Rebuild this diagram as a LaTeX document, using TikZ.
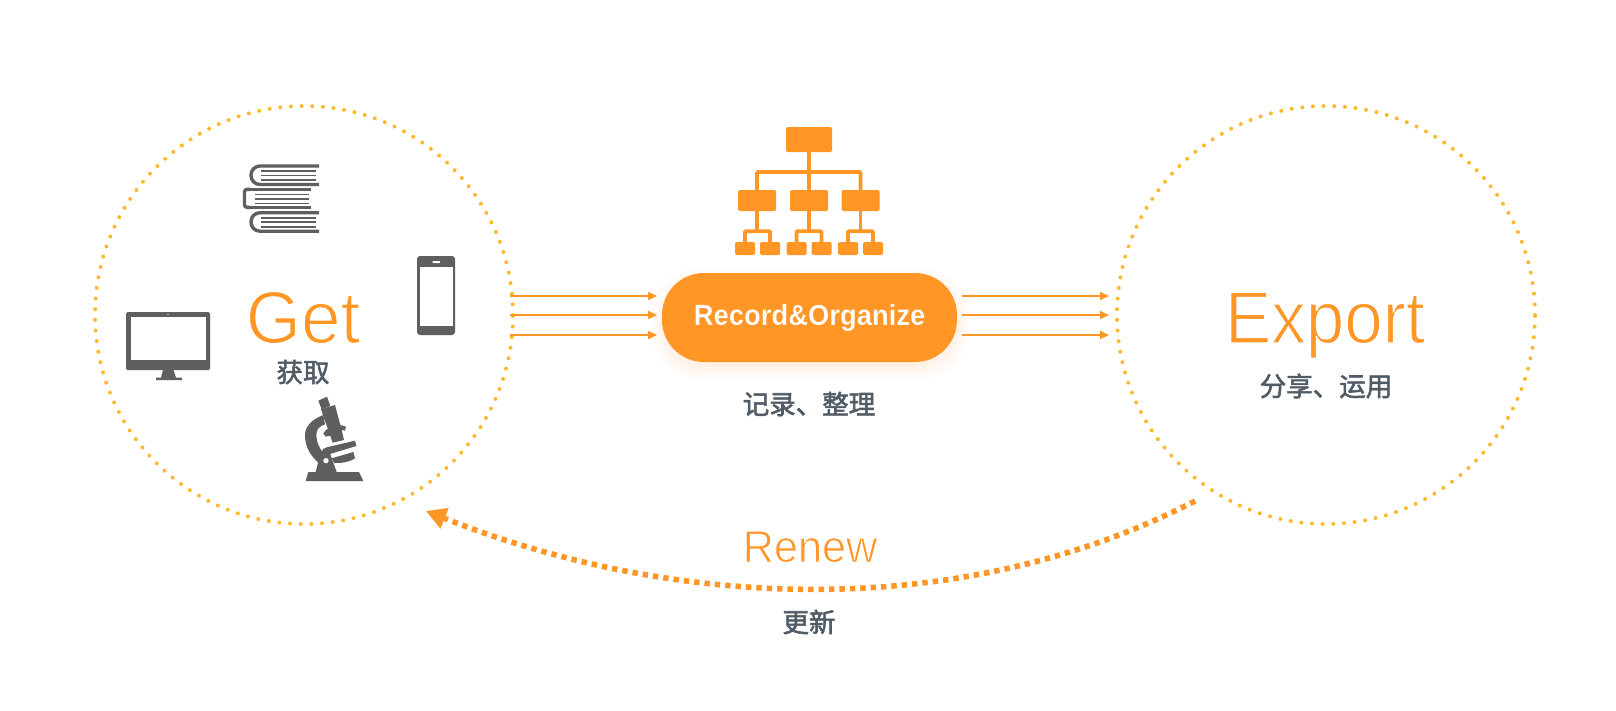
\documentclass[tikz,border=0pt]{standalone}
\usepackage{fontspec}
\setmainfont{Liberation Sans}
\newfontfamily\cjkbase{Noto Sans CJK SC}
\usetikzlibrary{arrows.meta,calc}
\definecolor{org}{HTML}{FF9626}
\definecolor{dotc}{HTML}{FFB92E}
\definecolor{gry}{HTML}{5F5F5F}
\definecolor{slate}{HTML}{505B66}
\newcommand{\thintext}[3]{\special{pdf:code 2 Tr 1 1 1 RG #1 w}\scalebox{#2}[1]{#3}\special{pdf:code 0 Tr}}
\newcommand{\thinwhite}[3]{\special{pdf:code 2 Tr 1 0.588 0.149 RG #1 w}\scalebox{#2}[1]{#3}\special{pdf:code 0 Tr}}
\newcommand{\heavycn}[1]{\special{pdf:code 2 Tr 0.314 0.357 0.4 RG 0.55 w}#1\special{pdf:code 0 Tr}}
\tikzset{
  dotcircle/.style={circle,draw=dotc,line width=4pt,line cap=round,dash pattern=on 0pt off 10.67pt,minimum size=418pt,inner sep=0pt},
  big/.style={text=org,anchor=base,inner sep=0pt},
  cn/.style={text=slate,inner sep=0pt,font=\cjkbase\fontsize{26.5}{26.5}\selectfont},
  flow/.style={draw=org,line width=2pt,-{Triangle[length=9pt,width=8pt,fill=org]}},
  orgbox/.style={fill=org,rounded corners=1.5pt,inner sep=0pt},
  orgline/.style={draw=org,line width=3.8pt},
  bookline/.style={draw=gry,line width=3.4pt},
  pageline/.style={draw=gry,line width=1.6pt}
}
\begin{document}
\begin{tikzpicture}[x=1pt,y=-1pt]
\useasboundingbox (0,0) rectangle (1616,710);
\fill[white] (0,0) rectangle (1616,710);
% circles
\node[dotcircle] (getc) at (304,315) {};
\node[dotcircle] (expc) at (1326,315) {};
% pill shadow
\foreach \g in {16,12,8,4}
  \fill[org,opacity=0.03,rounded corners=46pt] (668-\g,285-\g) rectangle (952+\g,362+\g);
\node[fill=org,rounded corners=42pt,minimum width=295pt,minimum height=89pt,inner sep=0pt,text=white,font=\bfseries\fontsize{29}{29}\selectfont] (pill) at (809.5,317.5) {\raisebox{-5pt}{\thinwhite{0.2}{0.945}{Record\&Organize}}};
% texts
\node[big,font=\fontsize{74}{74}\selectfont] (gett) at (303,343) {\thintext{1.5}{0.96}{Get}};
\node[big,font=\fontsize{74}{74}\selectfont] (expt) at (1325,343) {\thintext{1.5}{0.935}{Export}};
\node[big,font=\fontsize{45}{45}\selectfont] (rent) at (810,562) {\thintext{0.9}{0.96}{Renew}};
\node[cn] (t1) at (303,372) {\heavycn{获取}};
\node[cn] (t2) at (809,404) {\heavycn{记录、整理}};
\node[cn] (t3) at (1326,386) {\heavycn{分享、运用}};
\node[cn] (t4) at (809,622) {\heavycn{更新}};
% flow arrows
\foreach \i/\y in {1/296,2/315,3/335}{
  \coordinate (la\i) at (510,\y); \coordinate (lb\i) at (657,\y);
  \coordinate (ra\i) at (962,\y); \coordinate (rb\i) at (1109,\y);
  \draw[flow] (la\i) -- (lb\i);
  \draw[flow] (ra\i) -- (rb\i);
}
% renew arrow
\coordinate (rs) at (1195,501);
\coordinate (re) at (426,511);
\draw[draw=org,line width=5.6pt,dash pattern=on 5.4pt off 5pt,-{Triangle[length=20pt,width=21pt,fill=org,sep=0pt]}] (rs) .. controls (960,622) and (676,610) .. (re);
% org chart
\node[orgbox,minimum width=46pt,minimum height=25pt] (top) at (809,139.5) {};
\foreach \n/\x in {a/757,b/809,c/860.5}{
  \node[orgbox,minimum width=38pt,minimum height=21pt] (m\n) at (\x,200.5) {};
}
\foreach \n/\x in {a1/745,a2/770,b1/796.5,b2/821.5,c1/848,c2/873}{
  \node[orgbox,minimum width=20pt,minimum height=13pt] (s\n) at (\x,248.5) {};
}
\coordinate (bus) at (809,172);
\draw[orgline] (top.south) -- (mb.north);
\draw[orgline,rounded corners=1pt] (ma.north) |- (bus) -| (mc.north);
\foreach \n in {a,b,c}{
  \coordinate (j\n) at ($(m\n.south)+(0,20)$);
  \draw[orgline] (m\n.south) -- (j\n);
  \draw[orgline,rounded corners=1pt] (s\n1.north) |- (j\n) -| (s\n2.north);
}
% books
\foreach \y in {166,212.7}{
  \draw[bookline,rounded corners=9pt] (319,\y) -- (251,\y) -- (251,\y+18.5) -- (319,\y+18.5);
  \foreach \d in {5,9.5,14} \draw[pageline] (261,\y+\d) -- (316,\y+\d);
}
\draw[bookline] (311,189.3) -- (250,189.3);
\draw[bookline] (311,207.3) -- (250,207.3);
\draw[bookline,rounded corners=2.5pt] (250,189.3) -- (244.5,189.3) -- (244.5,207.3) -- (250,207.3);
\foreach \d in {194.3,198.7,203.3} \draw[pageline] (255,\d) -- (309,\d);
% monitor
\fill[gry,rounded corners=1.5pt] (126,312) rectangle (210,370);
\fill[white] (131,317) rectangle (206,360);
\fill[white] (168,314.5) circle (0.7pt);
\fill[gry] (163,370) -- (173.5,370) -- (176,377.5) -- (182,377.5) -- (182,380) -- (156,380) -- (156,377.5) -- (161,377.5) -- cycle;
% phone
\fill[gry,rounded corners=3pt] (417,256) rectangle (455,335);
\fill[white] (419.5,267) rectangle (453,326);
\fill[white,rounded corners=0.5pt] (432.5,261) rectangle (440,263);
% microscope, drawn in the coordinates of the crop
\begin{scope}[shift={(295pt,-390pt)},x=0.3333pt,y=-0.3333pt]
\fill[gry] (70,32) -- (96,20) -- (106,48) -- (80,58) -- cycle;
\fill[gry] (78,58) -- (120,45) -- (136,105) -- (153,110) -- (150,122) -- (140,120) -- (147,150) -- (113,158) -- cycle;
\fill[gry] (85,75) .. controls (50,88) and (30,110) .. (30,135) .. controls (30,170) and (45,195) .. (70,218) -- (92,195) .. controls (74,180) and (64,155) .. (64,135) .. controls (64,120) and (72,108) .. (90,103) -- cycle;
\fill[gry] (85,130) -- (95,118) -- (120,113) -- (125,133) -- (92,140) -- cycle;
\fill[gry] (85,178) -- (95,172) -- (180,152) -- (184,168) -- (105,192) -- cycle;
\fill[gry] (110,205) -- (175,186) -- (180,205) .. controls (165,216) and (140,220) .. (118,219) -- cycle;
\fill[gry] (85,175) -- (105,190) -- (125,246) -- (62,246) -- (70,215) -- cycle;
\fill[gry] (40,246) -- (192,246) -- (205,273) -- (32,273) -- cycle;
\fill[white] (93,212) circle (8);
\end{scope}
\end{tikzpicture}
\end{document}
